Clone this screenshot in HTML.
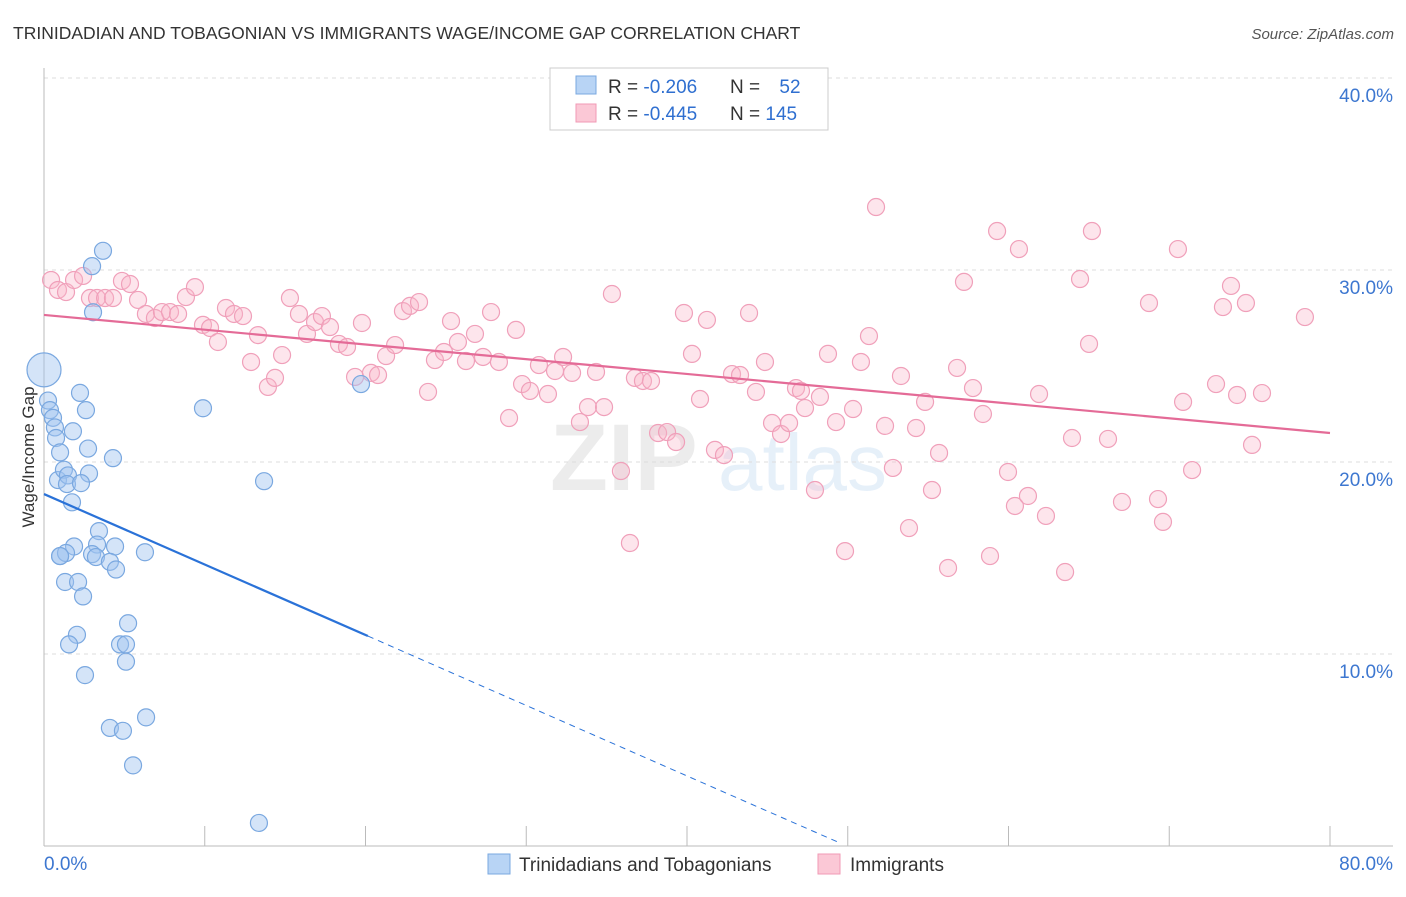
<!DOCTYPE html>
<html><head><meta charset="utf-8"><style>
body{margin:0;background:#fff;font-family:"Liberation Sans",sans-serif;}
svg text{font-family:"Liberation Sans",sans-serif;}
</style></head><body>
<svg id="chart" width="1406" height="892" viewBox="0 0 1406 892" xmlns="http://www.w3.org/2000/svg">
<text x="13" y="39" font-size="17.5" fill="#333">TRINIDADIAN AND TOBAGONIAN VS IMMIGRANTS WAGE/INCOME GAP CORRELATION CHART</text>
<text x="1394" y="39" font-size="15" fill="#555" font-style="italic" text-anchor="end">Source: ZipAtlas.com</text>
<g opacity="0.13">
<text x="550" y="490" font-size="95" font-family="Liberation Serif,serif" fill="#777" font-weight="bold">ZIP</text>
<text x="718" y="490" font-size="80" fill="#4a90d9">atlas</text>
</g>
<g id="grid"></g>
<g id="axes"></g>
<g id="pink"></g>
<g id="blue"></g>
<g id="trends"></g>
<text transform="translate(34,457) rotate(-90)" font-size="17" fill="#333" text-anchor="middle">Wage/Income Gap</text>
<g>
<rect x="550" y="68" width="278" height="62" fill="#fff" stroke="#ccc"/>
<rect x="576" y="76" width="20" height="18" fill="#b8d4f5" stroke="#7aa8e0"/>
<rect x="576" y="104" width="20" height="18" fill="#fbc8d6" stroke="#f09ab5"/>
<text x="608" y="93" font-size="19" fill="#333">R = <tspan fill="#2f6fd0">-0.206</tspan></text>
<text x="730" y="93" font-size="19" fill="#333">N = <tspan fill="#2f6fd0" dx="14">52</tspan></text>
<text x="608" y="120" font-size="19" fill="#333">R = <tspan fill="#2f6fd0">-0.445</tspan></text>
<text x="730" y="120" font-size="19" fill="#333">N = <tspan fill="#2f6fd0">145</tspan></text>
</g>
<g>
<rect x="488" y="854" width="22" height="20" fill="#b8d4f5" stroke="#7aa8e0"/>
<text x="519" y="871" font-size="19" fill="#333">Trinidadians and Tobagonians</text>
<rect x="818" y="854" width="22" height="20" fill="#fbc8d6" stroke="#f09ab5"/>
<text x="850" y="871" font-size="19" fill="#333">Immigrants</text>
</g>
</svg>
<script>
const blueX=[0,.25,.37,.56,.68,.75,1.0,.87,1.24,1.49,1.43,1.74,2.24,2.61,2.74,2.8,2.3,3.67,2.99,3.05,1.8,1.87,1.0,1.37,1.31,2.12,2.43,3.42,3.3,2.99,3.23,4.42,4.1,4.48,6.28,4.29,9.89,13.69,19.72,5.23,2.05,1.56,4.73,5.1,5.1,2.55,4.1,4.91,6.35,5.54,13.37,1.0];
const blueY=[24.8,23.2,22.7,22.3,21.8,21.25,20.5,19.06,19.6,19.3,18.85,17.9,23.6,22.7,20.7,19.4,18.9,31.0,30.2,27.8,21.6,15.6,15.1,15.26,13.75,13.75,13.0,16.4,15.7,15.2,15.05,15.6,14.8,14.4,15.3,20.2,22.8,19.0,24.06,11.6,11.0,10.5,10.5,10.5,9.6,8.9,6.15,6.0,6.7,4.2,1.2,15.1];
const pinkX=[0.44,0.87,1.37,1.87,2.43,2.86,3.3,3.8,4.29,4.85,5.35,5.85,6.34,6.9,7.34,7.84,8.34,8.83,9.39,9.89,10.33,10.82,11.32,11.82,12.38,12.88,13.31,13.93,14.37,14.81,15.3,15.86,16.36,16.86,17.29,17.79,18.35,18.85,19.35,19.78,20.34,20.78,21.28,21.84,22.33,22.77,23.33,23.89,24.32,24.88,25.32,25.75,26.25,26.81,27.31,27.81,28.3,28.93,29.36,29.74,30.23,30.79,31.35,31.79,32.29,32.85,33.34,33.84,34.34,34.84,35.33,35.89,36.45,36.76,37.26,37.76,38.2,38.76,39.32,39.81,40.31,40.81,41.24,41.74,42.3,42.8,43.3,43.86,44.29,44.85,45.29,45.85,46.35,46.78,47.09,47.34,47.96,48.27,48.77,49.27,49.83,50.33,50.82,51.32,51.76,52.32,52.81,53.31,53.81,54.25,54.81,55.24,55.68,56.24,56.8,57.23,57.79,58.41,58.85,59.29,59.97,60.4,60.65,61.21,61.9,62.33,63.52,63.95,64.45,65.01,65.19,66.19,67.06,68.74,69.3,69.61,70.54,70.86,71.42,72.91,73.34,73.84,74.22,74.77,75.15,75.77,78.44];
const pinkY=[29.48,28.96,28.85,29.48,29.69,28.54,28.54,28.54,28.54,29.43,29.27,28.44,27.71,27.5,27.81,27.81,27.71,28.59,29.11,27.14,26.98,26.25,28.02,27.71,27.6,25.21,26.61,23.91,24.38,25.57,28.54,27.71,26.67,27.29,27.6,27.03,26.15,25.99,24.43,27.24,24.64,24.53,25.52,26.09,27.86,28.13,28.33,23.65,25.31,25.73,27.34,26.25,25.26,26.67,25.47,27.81,25.21,22.29,26.88,24.06,23.7,25.05,23.54,24.74,25.47,24.64,22.08,22.86,24.69,22.86,28.75,19.53,15.78,24.38,24.22,24.22,21.51,21.56,21.04,27.76,25.63,23.28,27.4,20.63,20.36,24.58,24.53,27.76,23.65,25.21,22.03,21.46,22.03,23.85,23.7,22.81,18.54,23.39,25.63,22.08,15.36,22.76,25.21,26.56,33.28,21.88,19.69,24.48,16.56,21.77,23.13,18.54,20.47,14.48,24.9,29.38,23.85,22.5,15.1,32.03,19.48,17.71,31.09,18.23,23.54,17.19,14.27,21.25,29.53,26.15,32.03,21.2,17.92,28.28,18.07,16.88,31.09,23.13,19.58,24.06,28.07,29.17,23.49,28.28,20.89,23.59,27.55];
const yTicks=[10,20,30,40];
const yTickLabels=["10.0%","20.0%","30.0%","40.0%"];
const xTicks=[0,10,20,30,40,50,60,70,80];
const blueTrend=[18.33,-0.367,20.15,49.4]; // intercept, slope, solid end, dashed end
const pinkTrend=[27.66,21.51];

const NS="http://www.w3.org/2000/svg";
const sx=v=>44+v*16.075, sy=v=>846-v*19.2;
function mk(tag,attrs,parent){const e=document.createElementNS(NS,tag);for(const k in attrs)e.setAttribute(k,attrs[k]);parent.appendChild(e);return e;}
const grid=document.getElementById('grid'),axes=document.getElementById('axes');
yTicks.forEach((t,i)=>{
  const l=mk('line',{x1:44,x2:1393,y1:sy(t),y2:sy(t),stroke:'#ddd','stroke-dasharray':'4,4'},grid);
  
  
  const tx=mk('text',{x:1393,y:sy(t)+24,'font-size':19,fill:'#3d77d0','text-anchor':'end'},axes);
  tx.textContent=yTickLabels[i];
  
  
});
mk('line',{x1:44,x2:44,y1:68,y2:846,stroke:'#bbb'},axes);
mk('line',{x1:44,x2:1393,y1:846,y2:846,stroke:'#bbb'},axes);
xTicks.forEach(t=>{
  const l=mk('line',{x1:sx(t),x2:sx(t),y1:826,y2:846,stroke:'#bbb'},axes);
  
  
});
const x0=mk('text',{x:44,y:870,'font-size':19,fill:'#3d77d0'},axes);x0.textContent='0.0%';


const x1=mk('text',{x:1393,y:870,'font-size':19,fill:'#3d77d0','text-anchor':'end'},axes);x1.textContent='80.0%';



const pg=document.getElementById('pink');
pinkX.forEach((x,i)=>{
  const c=mk('circle',{cx:sx(x),cy:sy(pinkY[i]),r:8.5,fill:'rgba(248,180,200,0.35)',stroke:'#f0a0ba','stroke-width':1.2},pg);
  
  
});
const bg=document.getElementById('blue');
blueX.forEach((x,i)=>{
  const c=mk('circle',{cx:sx(x),cy:sy(blueY[i]),r:i===0?17:8.5,fill:'rgba(160,196,240,0.45)',stroke:'#7aa8e0','stroke-width':1.2},bg);
  
  
});
const tg=document.getElementById('trends');
const bf=x=>blueTrend[0]+blueTrend[1]*x;
const b1=mk('line',{x1:sx(0),y1:sy(bf(0)),x2:sx(blueTrend[2]),y2:sy(bf(blueTrend[2])),stroke:'#2a72d8','stroke-width':2.2},tg);


const b2=mk('line',{x1:sx(blueTrend[2]),y1:sy(bf(blueTrend[2])),x2:sx(blueTrend[3]),y2:sy(bf(blueTrend[3])),stroke:'#2a72d8','stroke-width':1,'stroke-dasharray':'6,5'},tg);


const p1=mk('line',{x1:sx(0),y1:sy(pinkTrend[0]),x2:sx(80),y2:sy(pinkTrend[1]),stroke:'#e46b97','stroke-width':2.2},tg);


</script>
</body></html>
